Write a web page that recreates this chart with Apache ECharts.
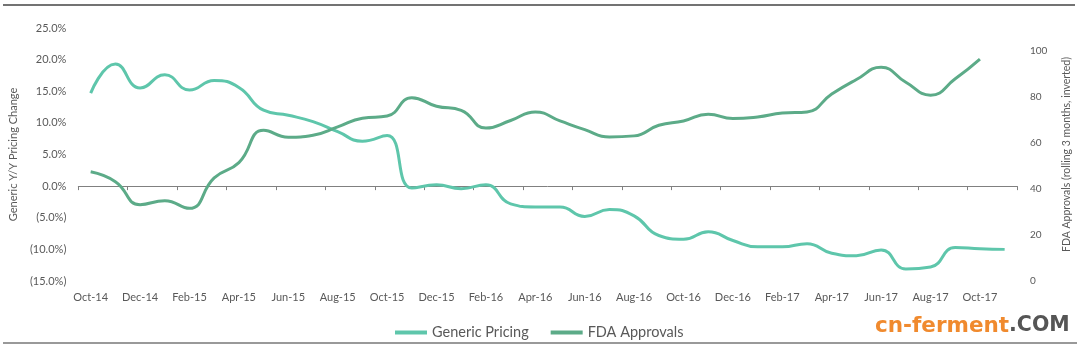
<!DOCTYPE html>
<html>
<head>
<meta charset="utf-8">
<script src="https://cdn.jsdelivr.net/npm/echarts@6/dist/echarts.min.js"></script>
<style>
html,body{margin:0;padding:0;background:#fff;}
#chart{width:1080px;height:349px;}
</style>
</head>
<body>
<div id="chart"></div>
<script>
const months = ["Oct-14","Nov-14","Dec-14","Jan-15","Feb-15","Mar-15","Apr-15","May-15","Jun-15","Jul-15","Aug-15","Sep-15",
  "Oct-15","Nov-15","Dec-15","Jan-16","Feb-16","Mar-16","Apr-16","May-16","Jun-16","Jul-16","Aug-16","Sep-16",
  "Oct-16","Nov-16","Dec-16","Jan-17","Feb-17","Mar-17","Apr-17","May-17","Jun-17","Jul-17","Aug-17","Sep-17",
  "Oct-17","Nov-17"];
const genericPricing = [14.7,19.3,15.5,17.6,15.2,16.7,15.6,12.0,11.2,10.2,8.6,7.1,
  8.0,-0.3,0.2,-0.4,0.2,-2.8,-3.3,-3.3,-4.8,-3.7,-4.7,-7.8,
  -8.4,-7.2,-8.6,-9.6,-9.6,-9.1,-10.6,-11.0,-10.1,-13.1,-12.8,-9.7,
  -9.9,-10.0];
const fdaApprovals = [47.5,43.2,33.2,34.9,31.6,44.8,51.5,65.5,62.5,63.4,67.0,70.8,
  71.7,79.7,76.0,74.2,66.5,69.8,73.5,69.6,65.8,62.6,63.1,67.7,
  69.6,72.5,70.6,71.3,73.0,73.5,81.3,87.6,92.9,86.4,80.8,87.9,
  96.5];
const leftTicks = {min:-15, max:25, interval:5};
const rightTicks = {min:0, max:110, interval:20};

const labelColor = '#595959';
const fontFam = 'Lato, "Open Sans", sans-serif';
const chart = echarts.init(document.getElementById('chart'), null, {renderer:'canvas'});
chart.setOption({
  animation:false,
  backgroundColor:'#ffffff',
  grid:{left:77, right:63, top:28, bottom:68, containLabel:false},
  legend:{
    bottom:4, left:390,
    itemWidth:32, itemHeight:4, itemGap:22, icon:'rect',
    textStyle:{color:labelColor, fontSize:14.5, fontFamily:fontFam},
    data:['Generic Pricing','FDA Approvals']
  },
  xAxis:[{
    type:'category', data:months, boundaryGap:true,
    axisLine:{show:true, onZero:true, lineStyle:{color:'#808080', width:1}},
    axisTick:{show:true, interval:1, length:4, lineStyle:{color:'#808080'}},
    axisLabel:{show:false}
  },{
    type:'category', data:months, boundaryGap:true, position:'bottom',
    axisLine:{show:false, onZero:false},
    axisTick:{show:false},
    axisLabel:{show:true, interval:1, margin:11, color:labelColor, fontSize:11, fontFamily:fontFam}
  }],
  yAxis:[{
    type:'value', min:leftTicks.min, max:leftTicks.max, interval:leftTicks.interval,
    name:'Generic Y/Y Pricing Change', nameLocation:'middle', nameGap:58, nameRotate:90,
    nameTextStyle:{color:labelColor, fontSize:11, fontFamily:fontFam},
    axisLine:{show:false}, axisTick:{show:false}, splitLine:{show:false},
    axisLabel:{margin:12, color:labelColor, fontSize:11, fontFamily:fontFam,
      formatter:v=> v<0 ? '('+Math.abs(v).toFixed(1)+'%)' : v.toFixed(1)+'%'}
  },{
    type:'value', min:rightTicks.min, max:rightTicks.max, interval:rightTicks.interval, position:'right',
    name:'FDA Approvals (rolling 3 months, inverted)', nameLocation:'middle', nameGap:44, nameRotate:90,
    nameTextStyle:{color:labelColor, fontSize:10.5, fontFamily:fontFam},
    axisLine:{show:false}, axisTick:{show:false}, splitLine:{show:false},
    axisLabel:{margin:13, color:labelColor, fontSize:10, fontFamily:fontFam,
      formatter:v=> v>100 ? '' : String(v)}
  }],
  series:[{
    name:'Generic Pricing', type:'line', data:genericPricing, xAxisIndex:0, yAxisIndex:0,
    smooth:true, showSymbol:false, symbol:'none',
    lineStyle:{color:'#5ec6ab', width:3}, itemStyle:{color:'#5ec6ab'}
  },{
    name:'FDA Approvals', type:'line', data:fdaApprovals, xAxisIndex:0, yAxisIndex:1,
    smooth:true, showSymbol:false, symbol:'none',
    lineStyle:{color:'#5cab88', width:3}, itemStyle:{color:'#5cab88'}
  }],
  graphic:[
    {type:'line', shape:{x1:3, y1:5, x2:1075, y2:5}, style:{stroke:'#444', lineWidth:1.5}},
    {type:'line', shape:{x1:3, y1:343, x2:1077, y2:343}, style:{stroke:'#777', lineWidth:1.5}},
    {type:'text', x:875, y:326, style:{
      text:'{a|cn-ferment}{b|.COM}', verticalAlign:'middle', align:'left',
      rich:{
        a:{fill:'#f08a2e', fontSize:21.5, fontWeight:'bold', fontFamily:'"DejaVu Sans"'},
        b:{fill:'#555555', fontSize:20.5, fontWeight:'bold', fontFamily:'"DejaVu Sans"'}
      }
    }}
  ]
});
</script>
</body>
</html>
